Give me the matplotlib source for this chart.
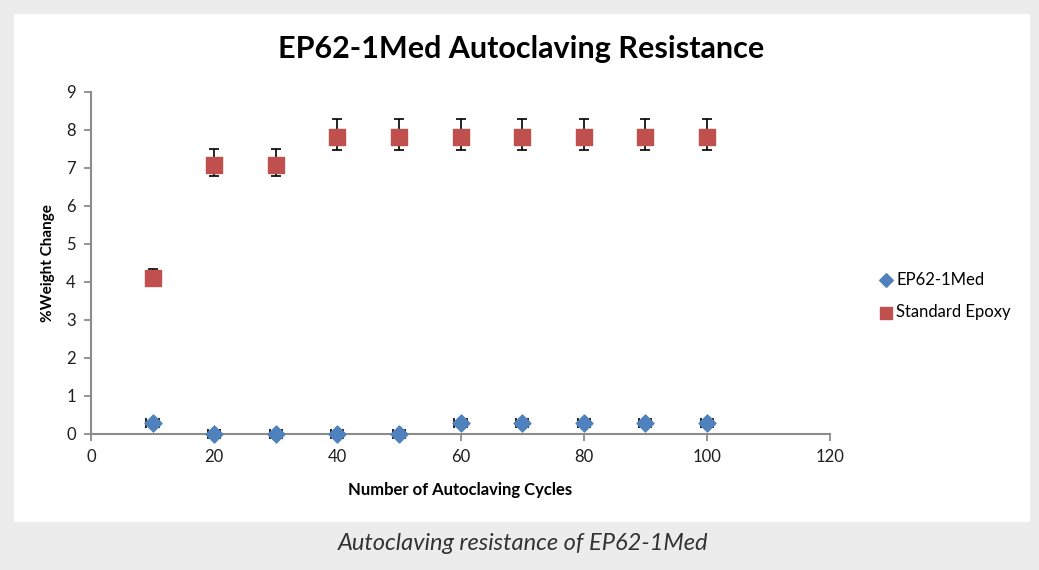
import numpy as np
import matplotlib
matplotlib.use("Agg")
import matplotlib.pyplot as plt
from matplotlib.patches import Rectangle

# data
cycles = [10, 20, 30, 40, 50, 60, 70, 80, 90, 100]
ep62_vals = [0.3, 0.0, 0.0, 0.0, 0.0, 0.3, 0.3, 0.3, 0.3, 0.3]
epoxy_vals = [4.1, 7.08, 7.08, 7.82, 7.82, 7.82, 7.82, 7.82, 7.82, 7.82]
epoxy_err_up = [0.25, 0.42, 0.42, 0.48, 0.48, 0.48, 0.48, 0.48, 0.48, 0.48]
epoxy_err_dn = [0.1, 0.3, 0.3, 0.35, 0.35, 0.35, 0.35, 0.35, 0.35, 0.35]
x_err = [1.0] * len(cycles)

W, H = 1039, 570
plt.rcParams['font.family'] = ['Lato', 'DejaVu Sans']

fig = plt.figure(figsize=(W / 100, H / 100), dpi=100)
fig.patch.set_facecolor('#ececec')
fig.patches.append(Rectangle((14 / W, 1 - 522 / H), (1030 - 14) / W, (522 - 14) / H,
                             transform=fig.transFigure, facecolor='white',
                             edgecolor='none', zorder=-10))

ax = fig.add_axes([91 / W, 1 - 434 / H, (830 - 91) / W, (434 - 92) / H])
ax.set_facecolor('none')

# error bars first, markers on top
ax.errorbar(cycles, epoxy_vals, yerr=[epoxy_err_dn, epoxy_err_up], xerr=x_err,
            fmt='none', ecolor='black', elinewidth=1.2, capsize=3.5, capthick=1.2, zorder=2)
ax.errorbar(cycles, ep62_vals, xerr=x_err, fmt='none', ecolor='black',
            elinewidth=1.2, capsize=3.5, capthick=1.2, zorder=2, clip_on=False)

ep = ax.scatter(cycles, ep62_vals, marker='D', s=75, color='#4F81BD',
                edgecolors='#4F81BD', zorder=3, label='EP62-1Med', clip_on=False)
st = ax.scatter(cycles, epoxy_vals, marker='s', s=120, color='#C0504D',
                edgecolors='#C0504D', zorder=3, label='Standard Epoxy', clip_on=False)

ax.set_xlim(0, 120)
ax.set_ylim(0, 9)
ax.set_xticks(np.arange(0, 121, 20))
ax.set_yticks(np.arange(0, 10, 1))

for s in ['top', 'right']:
    ax.spines[s].set_visible(False)
for s in ['left', 'bottom']:
    ax.spines[s].set_color('#8c8c8c')
    ax.spines[s].set_linewidth(1.5)
ax.tick_params(direction='out', length=5, width=1.3, color='#8c8c8c',
               labelsize=12, labelcolor='#1f1f1f', pad=6)

ax.set_xlabel('Number of Autoclaving Cycles', fontsize=12, fontweight='bold', labelpad=12)
ax.set_ylabel('%Weight Change', fontsize=11, fontweight='bold', labelpad=8)

fig.text(521 / W, 1 - 49 / H, 'EP62-1Med Autoclaving Resistance', ha='center', va='center',
         fontsize=22, fontweight='bold', color='black')

fig.legend(handles=[ep, st], loc='center left', bbox_to_anchor=(866 / W, 1 - 296 / H),
           frameon=False, fontsize=12, handlelength=0.6, handletextpad=0.3,
           labelspacing=1.0, markerscale=0.8)

fig.text(523 / W, 1 - 544 / H, 'Autoclaving resistance of EP62-1Med', ha='center', va='center',
         fontsize=17, style='italic', color='#333333')

fig.savefig('out.png', dpi=100, facecolor=fig.get_facecolor())
